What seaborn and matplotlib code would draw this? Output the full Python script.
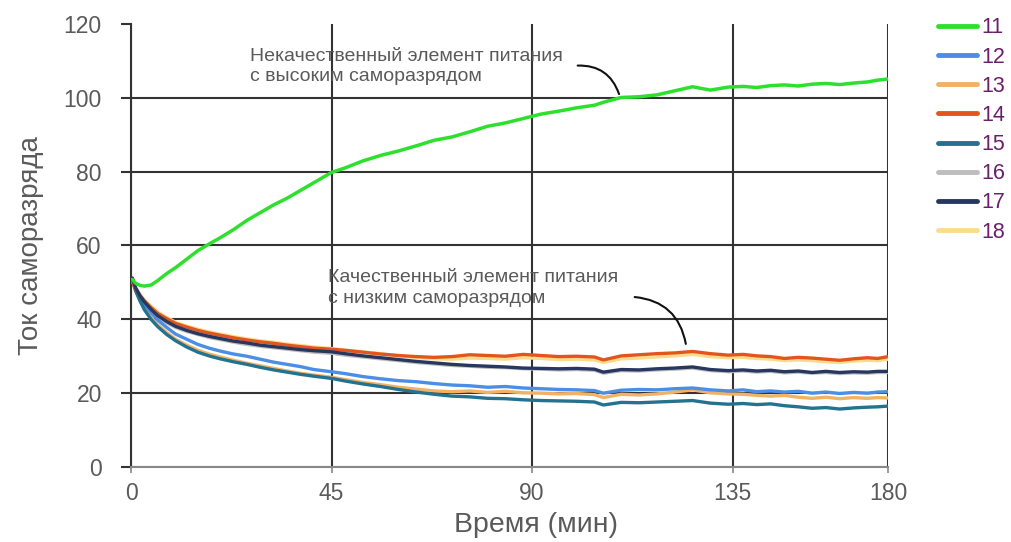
import numpy as np
import pandas as pd
import matplotlib
matplotlib.use("Agg")
import matplotlib.pyplot as plt
import seaborn as sns
from matplotlib.lines import Line2D

# time, minutes
minutes = [0.3, 1, 2, 3, 4.5, 6, 8, 10, 12.5, 15,
           17.5, 20, 23, 26, 29, 32, 35, 38, 41, 45,
           48, 52, 56, 60, 64, 68, 72, 76, 80, 84,
           88, 92, 96, 100, 104, 106, 110, 114, 118, 122,
           126, 130, 134, 138, 142, 146, 150, 154, 158, 162,
           166, 170, 174, 177, 180]

cell_11 = [50.8, 49.8, 49.2, 49.0, 49.3, 50.5, 52.4, 54.0, 56.3, 58.6,
           60.4, 62.1, 64.3, 66.8, 68.9, 71.0, 72.8, 74.9, 77.0, 79.8,
           81.0, 82.9, 84.4, 85.6, 87.0, 88.5, 89.4, 90.8, 92.3, 93.2,
           94.4, 95.6, 96.4, 97.3, 98.0, 98.8, 100.1, 100.3, 100.8, 101.9,
           103.0, 102.1, 102.9, 103.1, 102.8, 103.3, 103.5, 103.2, 103.7, 103.9,
           103.6, 104.0, 104.3, 104.8, 105.1]
cell_12 = [51.0, 48.5, 46.0, 44.0, 41.8, 39.8, 37.8, 36.0, 34.6, 33.2,
           32.2, 31.4, 30.6, 30.0, 29.2, 28.4, 27.8, 27.2, 26.4, 25.8,
           25.3, 24.5, 23.9, 23.4, 23.1, 22.6, 22.2, 22.0, 21.6, 21.8,
           21.4, 21.2, 21.0, 20.9, 20.7, 20.0, 20.8, 21.0, 20.9, 21.2,
           21.4, 20.9, 20.6, 20.9, 20.4, 20.6, 20.3, 20.5, 20.0, 20.3,
           19.9, 20.2, 20.0, 20.3, 20.4]
cell_13 = [50.6, 48.0, 45.2, 43.0, 40.5, 38.5, 36.4, 34.6, 33.0, 31.6,
           30.6, 29.8, 28.9, 28.1, 27.4, 26.7, 26.0, 25.4, 24.9, 24.3,
           23.7, 22.9, 22.3, 21.6, 21.1, 20.6, 20.4, 20.6, 20.2, 20.5,
           20.1, 20.0, 19.8, 19.9, 19.6, 18.8, 19.7, 19.5, 19.8, 20.3,
           20.9, 20.1, 19.8, 19.7, 19.4, 19.2, 19.4, 18.9, 18.6, 18.9,
           18.5, 18.8, 18.6, 18.8, 18.7]
cell_14 = [50.2, 48.3, 46.5, 45.0, 43.2, 41.6, 40.2, 38.9, 37.9, 37.0,
           36.3, 35.7, 35.0, 34.4, 33.9, 33.5, 33.0, 32.6, 32.2, 31.9,
           31.6, 31.1, 30.6, 30.2, 29.9, 29.7, 29.9, 30.4, 30.2, 30.0,
           30.5, 30.2, 29.9, 30.0, 29.8, 29.0, 30.1, 30.4, 30.7, 30.9,
           31.3, 30.7, 30.3, 30.5, 30.1, 29.9, 29.4, 29.7, 29.5, 29.2,
           28.9, 29.3, 29.6, 29.4, 29.9]
cell_15 = [50.8, 47.8, 45.0, 42.6, 40.0, 38.0, 35.9, 34.2, 32.5, 31.1,
           30.1, 29.3, 28.5, 27.8, 27.0, 26.3, 25.7, 25.1, 24.6, 24.0,
           23.3, 22.5, 21.8, 21.0, 20.3, 19.7, 19.2, 19.0, 18.6, 18.5,
           18.2, 18.0, 17.9, 17.8, 17.6, 16.8, 17.5, 17.4, 17.6, 17.8,
           18.0, 17.3, 17.0, 17.2, 16.9, 17.1, 16.6, 16.3, 15.9, 16.1,
           15.7, 16.0, 16.2, 16.3, 16.5]
cell_16 = [50.5, 48.0, 46.0, 44.3, 42.3, 40.6, 39.0, 37.8, 36.7, 35.9,
           35.1, 34.5, 33.8, 33.2, 32.7, 32.3, 31.9, 31.5, 31.1, 30.8,
           30.3, 29.8, 29.3, 28.8, 28.3, 27.9, 27.5, 27.3, 27.0, 26.9,
           26.6, 26.5, 26.3, 26.4, 26.2, 25.4, 26.1, 26.0, 26.3, 26.5,
           26.8, 26.1, 25.8, 26.0, 25.7, 25.9, 25.5, 25.7, 25.4, 25.6,
           25.3, 25.5, 25.4, 25.6, 25.6]
cell_17 = [51.2, 48.6, 46.4, 44.7, 42.7, 41.0, 39.4, 38.1, 37.0, 36.1,
           35.4, 34.8, 34.1, 33.6, 33.0, 32.6, 32.2, 31.8, 31.5, 31.2,
           30.7, 30.1, 29.6, 29.1, 28.6, 28.2, 27.8, 27.5, 27.3, 27.1,
           26.8, 26.7, 26.6, 26.7, 26.5, 25.7, 26.4, 26.3, 26.6, 26.8,
           27.1, 26.4, 26.1, 26.3, 26.0, 26.2, 25.8, 26.0, 25.6, 25.9,
           25.6, 25.8, 25.7, 25.9, 25.9]
cell_18 = [50.4, 48.6, 46.8, 45.2, 43.5, 42.0, 40.5, 39.2, 38.2, 37.3,
           36.6, 36.0, 35.3, 34.7, 34.2, 33.8, 33.3, 32.9, 32.5, 32.1,
           31.7, 31.2, 30.7, 30.1, 29.6, 29.3, 29.2, 29.5, 29.4, 29.2,
           29.6, 29.4, 29.1, 29.2, 29.0, 28.3, 29.3, 29.5, 29.8, 30.1,
           30.5, 29.9, 29.6, 29.7, 29.4, 29.2, 28.8, 29.0, 28.8, 28.5,
           28.3, 28.7, 28.9, 28.8, 29.2]

cell_names = ["11", "12", "13", "14", "15", "16", "17", "18"]
cell_values = [cell_11, cell_12, cell_13, cell_14, cell_15, cell_16, cell_17, cell_18]
cell_colors = {"11": "#2ee02e", "12": "#4a8ee6", "13": "#f2b264", "14": "#e2561e",
               "15": "#23728f", "16": "#bdbdbd", "17": "#27375f", "18": "#fbdc8a"}
draw_order = ["18", "16", "13", "12", "15", "14", "17", "11"]

x_ticks = [0, 45, 90, 135, 180]
y_ticks = [0, 20, 40, 60, 80, 100, 120]

rows = []
for name, vals in zip(cell_names, cell_values):
    for t, v in zip(minutes, vals):
        rows.append({"t": t, "current": v, "cell": name})
df = pd.DataFrame(rows)


# the source chart squeezes the last 45 minutes
def squeeze(t):
    t = np.asarray(t, dtype=float)
    return np.where(t <= 135, t, 135 + (t - 135) * 0.775)


def unsqueeze(u):
    u = np.asarray(u, dtype=float)
    return np.where(u <= 135, u, 135 + (u - 135) / 0.775)


sns.set_theme(style="white")
plt.rcParams["font.family"] = ["Liberation Sans", "DejaVu Sans"]
text_gray = "#5a5a5a"

fig = plt.figure(figsize=(10.11, 5.42), dpi=100)
ax = fig.add_axes([0.1296, 0.1384, 0.7488, 0.8173])

sns.lineplot(data=df, x="t", y="current", hue="cell", hue_order=draw_order,
             palette=cell_colors, estimator=None, sort=False, linewidth=2.4,
             legend=False, ax=ax)
for line, name in zip(ax.lines, draw_order):
    line.set_zorder(3)
    if name == "11":
        line.set_linewidth(2.5)

ax.set_xscale("function", functions=(squeeze, unsqueeze))
ax.set_xlim(0, 180)
ax.set_ylim(0, 120)
ax.set_xticks(x_ticks)
ax.set_xticklabels([str(v) for v in x_ticks])
ax.set_yticks(y_ticks)
ax.grid(True, color="#333333", linewidth=1.5)
ax.yaxis.get_gridlines()[-1].set_visible(False)
ax.yaxis.get_gridlines()[0].set_color("#888888")
for side in ["top", "right"]:
    ax.spines[side].set_visible(False)
ax.spines["left"].set_color("#333333")
ax.spines["left"].set_linewidth(1.5)
ax.spines["bottom"].set_color("#888888")
ax.spines["bottom"].set_linewidth(1.5)
ax.tick_params(axis="y", direction="out", length=7, width=1.5, color="#333333",
               pad=14, labelsize=16.5, labelcolor=text_gray, left=True)
ax.tick_params(axis="x", direction="out", length=4, width=1.2, color="#888888",
               pad=6.5, labelsize=16.5, labelcolor=text_gray, bottom=True)
ax.minorticks_off()

ax.set_xlabel("Время (мин)", fontsize=20.5, color=text_gray)
ax.xaxis.set_label_coords(0.535, -0.102)
ax.set_ylabel("Ток саморазряда", fontsize=20, color=text_gray, labelpad=14)

ax.annotate("Некачественный элемент питания\nс высоким саморазрядом",
            xy=(109.7, 100.3), xytext=(26.7, 108.5), textcoords="data",
            fontsize=14, color=text_gray, va="center", ha="left", linespacing=1.3)
ax.annotate("", xy=(109.7, 100.3), xytext=(99.6, 108.7),
            arrowprops=dict(arrowstyle="-", color="#111111", lw=1.5,
                            connectionstyle="arc3,rad=-0.4"))
ax.annotate("Качественный элемент питания\nс низким саморазрядом",
            xy=(124.6, 33), xytext=(44.2, 48.5), textcoords="data",
            fontsize=14, color=text_gray, va="center", ha="left", linespacing=1.3)
ax.annotate("", xy=(124.6, 32.6), xytext=(112.4, 46.1),
            arrowprops=dict(arrowstyle="-", color="#111111", lw=1.5,
                            connectionstyle="arc3,rad=-0.4"))

handles = [Line2D([0], [0], color=cell_colors[n], lw=3.5) for n in cell_names]
fig.legend(handles, cell_names, loc="upper left", bbox_to_anchor=(0.926, 0.972),
           frameon=False, fontsize=15.5, labelcolor="#6b1f6b", handlelength=1.8,
           handletextpad=0.22, labelspacing=0.38, borderaxespad=0, borderpad=0.1)

fig.savefig("out.png", dpi=100)
